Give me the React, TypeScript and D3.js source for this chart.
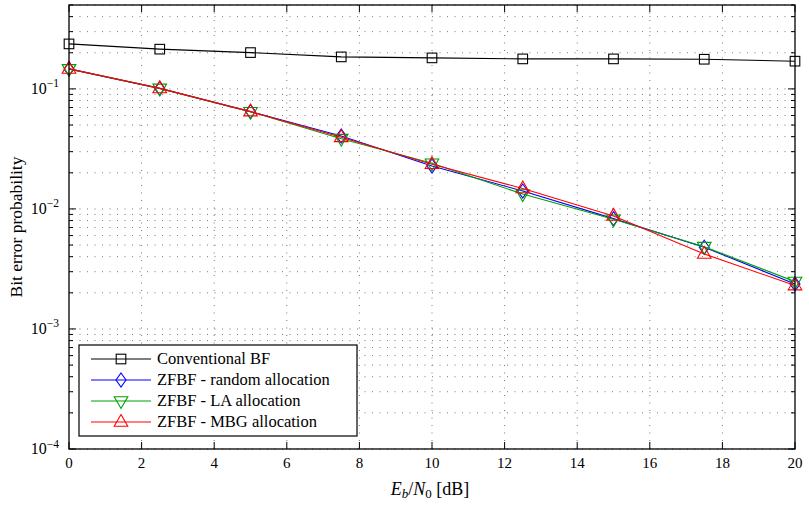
import React from "react";
import * as d3 from "d3";

const snr = [0, 2.5, 5, 7.5, 10, 12.5, 15, 17.5, 20];
const convBF = [0.237, 0.2143, 0.2007, 0.1848, 0.1813, 0.1778, 0.1778, 0.1766, 0.1702];
const zfRandom = [0.1468, 0.101, 0.0647, 0.0405, 0.0228, 0.0141, 0.0083, 0.0048, 0.00237];
const zfLA = [0.1468, 0.101, 0.0645, 0.0385, 0.024, 0.0133, 0.0082, 0.00485, 0.00248];
const zfMBG = [0.1468, 0.101, 0.0647, 0.0395, 0.0236, 0.0148, 0.00875, 0.00422, 0.0023];

const xTicks = [0, 2, 4, 6, 8, 10, 12, 14, 16, 18, 20];
const yDecadeExp = [-1, -2, -3, -4];
const legendLabels = [
  "Conventional BF",
  "ZFBF - random allocation",
  "ZFBF - LA allocation",
  "ZFBF - MBG allocation",
];
const xLabel = { main: "E", sub: "b", main2: "N", sub2: "0", unit: "[dB]" };
const yLabel = "Bit error probability";

const W = 809;
const H = 511;
const L = 69;
const R = 795;
const T = 5;
const B = 449;
const FONT = "Liberation Serif";

const series = [
  { data: convBF, color: "#000000", marker: "square" },
  { data: zfRandom, color: "#0000ff", marker: "diamond" },
  { data: zfLA, color: "#00a000", marker: "tridown" },
  { data: zfMBG, color: "#ff0000", marker: "triup" },
];

function Marker({ type, x, y, color }: { type: string; x: number; y: number; color: string }) {
  const common = { fill: "none", stroke: color, strokeWidth: 1.1 };
  if (type === "square") {
    const s = 4.8;
    return <rect x={x - s} y={y - s} width={2 * s} height={2 * s} {...common} />;
  }
  if (type === "diamond") {
    const w = 5, h = 7;
    return <path d={`M${x},${y - h}L${x + w},${y}L${x},${y + h}L${x - w},${y}Z`} {...common} />;
  }
  if (type === "triup") {
    return <path d={`M${x},${y - 7.5}L${x + 6.8},${y + 4.3}L${x - 6.8},${y + 4.3}Z`} {...common} />;
  }
  return <path d={`M${x},${y + 7.5}L${x + 6.8},${y - 4.3}L${x - 6.8},${y - 4.3}Z`} {...common} />;
}

export default function App() {
  const x = d3.scaleLinear().domain([0, 20]).range([L, R]);
  const y = d3.scaleLog().domain([1e-4, 0.5]).range([B, T]);
  const line = d3
    .line<number>()
    .x((_, i) => x(snr[i]))
    .y((d) => y(d));

  const minor: number[] = [];
  yDecadeExp.forEach((e) => {
    for (let k = 2; k <= 9; k++) {
      const v = k * Math.pow(10, e);
      if (v <= 0.5) minor.push(v);
    }
  });
  const majors = yDecadeExp.map((e) => Math.pow(10, e));

  const gridStyle = { stroke: "#777", strokeWidth: 1, strokeDasharray: "1 6.5" };

  const lgX = 79, lgY = 345, lgW = 278, lgH = 91;
  const lgRow = [359, 380, 401, 422];

  return (
    <svg
      width={W}
      height={H}
      style={{ position: "absolute", left: 0, top: 0, background: "#fff" }}
    >
      <rect x={0} y={0} width={W} height={H} fill="#fff" />
      {/* grid */}
      <g>
        {xTicks.slice(1, -1).map((t) => (
          <line key={"gx" + t} x1={x(t)} x2={x(t)} y1={T} y2={B} {...gridStyle} />
        ))}
        {[...majors, ...minor].map((v, i) => (
          <line key={"gy" + i} x1={L + 3} x2={R} y1={y(v)} y2={y(v)} {...gridStyle} />
        ))}
      </g>
      {/* ticks */}
      <g stroke="#000" strokeWidth={1}>
        {xTicks.map((t) => (
          <g key={"tx" + t}>
            <line x1={x(t)} x2={x(t)} y1={B} y2={B - 7} />
            <line x1={x(t)} x2={x(t)} y1={T} y2={T + 7} />
          </g>
        ))}
        {majors.map((v, i) => (
          <g key={"ty" + i}>
            <line x1={L} x2={L + 7} y1={y(v)} y2={y(v)} />
            <line x1={R} x2={R - 7} y1={y(v)} y2={y(v)} />
          </g>
        ))}
        {minor.map((v, i) => (
          <g key={"tm" + i}>
            <line x1={L} x2={L + 4} y1={y(v)} y2={y(v)} />
            <line x1={R} x2={R - 4} y1={y(v)} y2={y(v)} />
          </g>
        ))}
      </g>
      {/* series */}
      {series.map((s, si) => (
        <g key={"s" + si}>
          <path d={line(s.data) || ""} fill="none" stroke={s.color} strokeWidth={1.1} />
          {s.data.map((v, i) => (
            <Marker key={i} type={s.marker} x={x(snr[i])} y={y(v)} color={s.color} />
          ))}
        </g>
      ))}
      {/* frame */}
      <rect x={L} y={T} width={R - L} height={B - T} fill="none" stroke="#000" strokeWidth={1.3} />
      {/* tick labels */}
      <g fill="#000">
        {xTicks.map((t) => (
          <text key={"lx" + t} x={x(t)} y={468} textAnchor="middle" fontFamily={FONT} fontSize={15}>
            {t}
          </text>
        ))}
        {yDecadeExp.map((e) => (
          <text key={"ly" + e} x={59} y={y(Math.pow(10, e)) + 5} textAnchor="end" fontFamily={FONT} fontSize={16}>
            10
            <tspan fontSize={11.5} dy={-6.5}>
              {"\u2212" + Math.abs(e)}
            </tspan>
          </text>
        ))}
      </g>
      {/* axis labels */}
      <text x={430} y={495} textAnchor="middle" fontSize={18} fontFamily={FONT}>
        <tspan fontStyle="italic">{xLabel.main}</tspan>
        <tspan fontStyle="italic" fontSize={13} dy={3}>
          {xLabel.sub}
        </tspan>
        <tspan dy={-3}>/</tspan>
        <tspan fontStyle="italic">{xLabel.main2}</tspan>
        <tspan fontSize={13} dy={3}>
          {xLabel.sub2}
        </tspan>
        <tspan dy={-3}>{"\u00a0" + xLabel.unit}</tspan>
      </text>
      <text
        transform={`translate(22,${(T + B) / 2}) rotate(-90)`}
        textAnchor="middle"
        fontSize={17.5}
        fontFamily={FONT}
      >
        {yLabel}
      </text>
      {/* legend */}
      <g>
        <rect x={lgX} y={lgY} width={lgW} height={lgH} fill="#fff" stroke="#000" strokeWidth={1.2} />
        {series.map((s, i) => (
          <g key={"lg" + i}>
            <line x1={91} x2={151} y1={lgRow[i]} y2={lgRow[i]} stroke={s.color} strokeWidth={1.1} />
            <Marker type={s.marker} x={121} y={lgRow[i]} color={s.color} />
            <text x={157} y={lgRow[i] + 5} fontSize={16.5} fontFamily={FONT}>
              {legendLabels[i]}
            </text>
          </g>
        ))}
      </g>
    </svg>
  );
}
